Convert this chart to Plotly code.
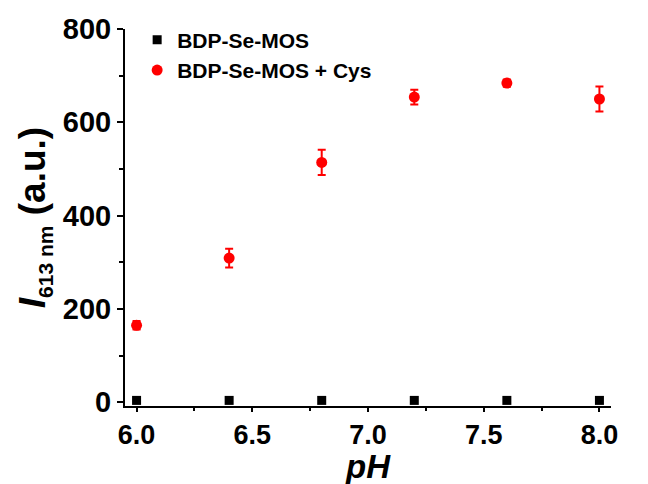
import plotly.graph_objects as go

ph = [6.0, 6.4, 6.8, 7.2, 7.6, 8.0]
probe_only = [4, 4, 4, 4, 4, 4]
probe_cys = [165, 309, 514, 654, 684, 650]
probe_cys_err = [9, 20, 27, 16, 8, 27]

FONT = "Liberation Sans, Arial, sans-serif"

fig = go.Figure()
fig.add_trace(go.Scatter(
    x=ph, y=probe_only, mode="markers", name="BDP-Se-MOS",
    marker=dict(symbol="square", size=9, color="black"),
))
fig.add_trace(go.Scatter(
    x=ph, y=probe_cys, mode="markers", name="BDP-Se-MOS + Cys",
    marker=dict(symbol="circle", size=11, color="#ff0000"),
    error_y=dict(type="data", array=probe_cys_err, color="#ff0000", thickness=2, width=4),
))

axis_common = dict(
    showline=True, linecolor="black", linewidth=2, mirror=False,
    ticks="outside", tickcolor="black", tickwidth=2,
    showgrid=False, zeroline=False, automargin=False,
)

fig.update_xaxes(
    range=[5.95, 8.05], tickvals=[6.0, 6.5, 7.0, 7.5, 8.0], tickformat=".1f", ticklen=4,
    tickfont=dict(family=FONT, size=27, color="black", weight="bold"),
    minor=dict(tickvals=[6.25, 6.75, 7.25, 7.75], ticks="outside", ticklen=3, tickwidth=2, tickcolor="black"),
    **axis_common,
)
fig.update_yaxes(
    range=[-8, 800], tickvals=[0, 200, 400, 600, 800], ticklen=6,
    tickfont=dict(family=FONT, size=29, color="black", weight="bold"),
    minor=dict(tickvals=[100, 300, 500, 700], ticks="outside", ticklen=4, tickwidth=2, tickcolor="black"),
    title=dict(text="<i>I</i><sub><span style='font-size:21px'>613 nm</span></sub> (a.u.)",
               font=dict(family=FONT, size=37, color="black", weight="bold"), standoff=6),
    **axis_common,
)

fig.add_annotation(
    text="<i>pH</i>", xref="paper", yref="paper", x=0.5, y=0,
    xanchor="center", yanchor="bottom", yshift=-80, showarrow=False, borderpad=0,
    font=dict(family=FONT, size=33, color="black", weight="bold"),
)

fig.update_layout(
    width=648, height=484,
    margin=dict(l=125, r=37, t=29, b=78),
    paper_bgcolor="white", plot_bgcolor="white",
    showlegend=True,
    legend=dict(
        x=0.025, y=1.025, xanchor="left", yanchor="top",
        font=dict(family=FONT, size=21, color="black", weight="bold"),
        bgcolor="rgba(0,0,0,0)", itemwidth=30, tracegroupgap=0,
    ),
)

fig.write_html("out.html")
